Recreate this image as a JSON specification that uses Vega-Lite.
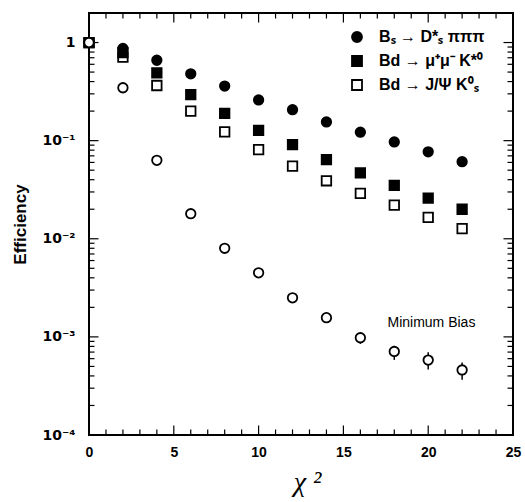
{
  "$schema": "https://vega.github.io/schema/vega-lite/v6.json",
  "width": 424,
  "height": 422,
  "autosize": "none",
  "padding": {"left": 89, "top": 13, "right": 12, "bottom": 67},
  "background": "white",
  "config": {
    "view": {"stroke": "black", "strokeWidth": 2},
    "font": "Liberation Sans",
    "axis": {"domain": false, "labelColor": "black", "titleColor": "black", "grid": false},
    "legend": {"orient": "none", "legendX": 260, "legendY": 16, "labelFontSize": 16, "labelFontWeight": "bold", "labelFont": "Liberation Sans", "labelColor": "black", "symbolSize": 100, "symbolStrokeWidth": 1.8, "rowPadding": 6, "labelOffset": 14, "symbolStrokeColor": "black"}
  },
  "datasets": {
    "b": [
      {"x": 0, "y": 1.0, "s": "Bd → J/Ψ K⁰ₛ"},
      {"x": 2, "y": 0.71, "s": "Bd → J/Ψ K⁰ₛ"},
      {"x": 4, "y": 0.365, "s": "Bd → J/Ψ K⁰ₛ"},
      {"x": 6, "y": 0.2, "s": "Bd → J/Ψ K⁰ₛ"},
      {"x": 8, "y": 0.123, "s": "Bd → J/Ψ K⁰ₛ"},
      {"x": 10, "y": 0.081, "s": "Bd → J/Ψ K⁰ₛ"},
      {"x": 12, "y": 0.055, "s": "Bd → J/Ψ K⁰ₛ"},
      {"x": 14, "y": 0.039, "s": "Bd → J/Ψ K⁰ₛ"},
      {"x": 16, "y": 0.029, "s": "Bd → J/Ψ K⁰ₛ"},
      {"x": 18, "y": 0.022, "s": "Bd → J/Ψ K⁰ₛ"},
      {"x": 20, "y": 0.0165, "s": "Bd → J/Ψ K⁰ₛ"},
      {"x": 22, "y": 0.0127, "s": "Bd → J/Ψ K⁰ₛ"},
      {"x": 0, "y": 1.0, "s": "Bₛ → D*ₛ πππ"},
      {"x": 2, "y": 0.87, "s": "Bₛ → D*ₛ πππ"},
      {"x": 4, "y": 0.66, "s": "Bₛ → D*ₛ πππ"},
      {"x": 6, "y": 0.48, "s": "Bₛ → D*ₛ πππ"},
      {"x": 8, "y": 0.36, "s": "Bₛ → D*ₛ πππ"},
      {"x": 10, "y": 0.26, "s": "Bₛ → D*ₛ πππ"},
      {"x": 12, "y": 0.207, "s": "Bₛ → D*ₛ πππ"},
      {"x": 14, "y": 0.155, "s": "Bₛ → D*ₛ πππ"},
      {"x": 16, "y": 0.122, "s": "Bₛ → D*ₛ πππ"},
      {"x": 18, "y": 0.097, "s": "Bₛ → D*ₛ πππ"},
      {"x": 20, "y": 0.077, "s": "Bₛ → D*ₛ πππ"},
      {"x": 22, "y": 0.061, "s": "Bₛ → D*ₛ πππ"},
      {"x": 0, "y": 1.0, "s": "Bd → μ⁺μ⁻ K*⁰"},
      {"x": 2, "y": 0.79, "s": "Bd → μ⁺μ⁻ K*⁰"},
      {"x": 4, "y": 0.49, "s": "Bd → μ⁺μ⁻ K*⁰"},
      {"x": 6, "y": 0.295, "s": "Bd → μ⁺μ⁻ K*⁰"},
      {"x": 8, "y": 0.19, "s": "Bd → μ⁺μ⁻ K*⁰"},
      {"x": 10, "y": 0.127, "s": "Bd → μ⁺μ⁻ K*⁰"},
      {"x": 12, "y": 0.091, "s": "Bd → μ⁺μ⁻ K*⁰"},
      {"x": 14, "y": 0.064, "s": "Bd → μ⁺μ⁻ K*⁰"},
      {"x": 16, "y": 0.047, "s": "Bd → μ⁺μ⁻ K*⁰"},
      {"x": 18, "y": 0.035, "s": "Bd → μ⁺μ⁻ K*⁰"},
      {"x": 20, "y": 0.026, "s": "Bd → μ⁺μ⁻ K*⁰"},
      {"x": 22, "y": 0.020, "s": "Bd → μ⁺μ⁻ K*⁰"}
    ],
    "mb": [
      {"x": 0, "y": 1.0, "lo": 1.0, "hi": 1.0},
      {"x": 2, "y": 0.346, "lo": 0.346, "hi": 0.346},
      {"x": 4, "y": 0.063, "lo": 0.063, "hi": 0.063},
      {"x": 6, "y": 0.018, "lo": 0.018, "hi": 0.018},
      {"x": 8, "y": 0.008, "lo": 0.008, "hi": 0.008},
      {"x": 10, "y": 0.0045, "lo": 0.0045, "hi": 0.0045},
      {"x": 12, "y": 0.0025, "lo": 0.0025, "hi": 0.0025},
      {"x": 14, "y": 0.00157, "lo": 0.00152, "hi": 0.00162},
      {"x": 16, "y": 0.00098, "lo": 0.00085, "hi": 0.00109},
      {"x": 18, "y": 0.00071, "lo": 0.000583, "hi": 0.00081},
      {"x": 20, "y": 0.00058, "lo": 0.000465, "hi": 0.000696},
      {"x": 22, "y": 0.00046, "lo": 0.000365, "hi": 0.000547}
    ],
    "lbl": [
      {"x": 17.6, "y": 0.0014, "t": "Minimum Bias"}
    ],
    "xt": [
      {"v": 0, "k": "major"}, {"v": 1, "k": "minor"}, {"v": 2, "k": "minor"}, {"v": 3, "k": "minor"}, {"v": 4, "k": "minor"},
      {"v": 5, "k": "major"}, {"v": 6, "k": "minor"}, {"v": 7, "k": "minor"}, {"v": 8, "k": "minor"}, {"v": 9, "k": "minor"},
      {"v": 10, "k": "major"}, {"v": 11, "k": "minor"}, {"v": 12, "k": "minor"}, {"v": 13, "k": "minor"}, {"v": 14, "k": "minor"},
      {"v": 15, "k": "major"}, {"v": 16, "k": "minor"}, {"v": 17, "k": "minor"}, {"v": 18, "k": "minor"}, {"v": 19, "k": "minor"},
      {"v": 20, "k": "major"}, {"v": 21, "k": "minor"}, {"v": 22, "k": "minor"}, {"v": 23, "k": "minor"}, {"v": 24, "k": "minor"}
    ],
    "yt": [
      {"v": 0.0002, "k": "minor"}, {"v": 0.0003, "k": "minor"}, {"v": 0.0004, "k": "minor"}, {"v": 0.0005, "k": "minor"}, {"v": 0.0006, "k": "minor"}, {"v": 0.0007, "k": "minor"}, {"v": 0.0008, "k": "minor"}, {"v": 0.0009, "k": "minor"},
      {"v": 0.001, "k": "major"},
      {"v": 0.002, "k": "minor"}, {"v": 0.003, "k": "minor"}, {"v": 0.004, "k": "minor"}, {"v": 0.005, "k": "minor"}, {"v": 0.006, "k": "minor"}, {"v": 0.007, "k": "minor"}, {"v": 0.008, "k": "minor"}, {"v": 0.009, "k": "minor"},
      {"v": 0.01, "k": "major"},
      {"v": 0.02, "k": "minor"}, {"v": 0.03, "k": "minor"}, {"v": 0.04, "k": "minor"}, {"v": 0.05, "k": "minor"}, {"v": 0.06, "k": "minor"}, {"v": 0.07, "k": "minor"}, {"v": 0.08, "k": "minor"}, {"v": 0.09, "k": "minor"},
      {"v": 0.1, "k": "major"},
      {"v": 0.2, "k": "minor"}, {"v": 0.3, "k": "minor"}, {"v": 0.4, "k": "minor"}, {"v": 0.5, "k": "minor"}, {"v": 0.6, "k": "minor"}, {"v": 0.7, "k": "minor"}, {"v": 0.8, "k": "minor"}, {"v": 0.9, "k": "minor"},
      {"v": 1, "k": "major"}
    ]
  },
  "layer": [
    {
      "data": {"name": "xt"},
      "mark": {"type": "tick", "orient": "vertical", "thickness": 1.2, "color": "black", "opacity": 1, "clip": true},
      "encoding": {
        "x": {"field": "v", "type": "quantitative", "scale": {"domain": [0, 25], "nice": false, "zero": false},
          "axis": {"orient": "bottom", "ticks": false, "values": [0, 5, 10, 15, 20, 25], "labelPadding": 10, "labelFontSize": 14, "labelFontWeight": "bold", "labelFont": "Liberation Sans", "labelFlush": false, "title": "χ ²", "titleFontSize": 28, "titleFontWeight": "normal", "titleFont": "Liberation Serif", "titleFontStyle": "italic", "titleX": 218, "titleY": 55, "titleBaseline": "alphabetic"}},
        "y": {"datum": 0.0001, "type": "quantitative", "scale": {"type": "log", "domain": [0.0001, 2], "nice": false},
          "axis": {"orient": "left", "ticks": false, "values": [0.0001, 0.001, 0.01, 0.1, 1], "labelExpr": "datum.value > 0.5 ? '1' : datum.value > 0.05 ? '10⁻¹' : datum.value > 0.005 ? '10⁻²' : datum.value > 0.0005 ? '10⁻³' : '10⁻⁴'", "labelPadding": 14, "labelFontSize": 14, "labelFontWeight": "bold", "labelFont": "DejaVu Sans", "labelFlush": false, "title": "Efficiency", "titleFontSize": 17, "titleFontWeight": "bold", "titleFont": "Liberation Sans", "titlePadding": 12}},
        "size": {"field": "k", "type": "ordinal", "scale": {"domain": ["major", "minor"], "range": [19, 11]}, "legend": null}
      }
    },
    {
      "data": {"name": "xt"},
      "mark": {"type": "tick", "orient": "vertical", "thickness": 1.2, "color": "black", "opacity": 1, "clip": true},
      "encoding": {
        "x": {"field": "v", "type": "quantitative",
          "axis": {"orient": "bottom", "ticks": false, "values": [0, 5, 10, 15, 20, 25], "labelPadding": 10, "labelFontSize": 14, "labelFontWeight": "bold", "labelFont": "Liberation Sans", "labelFlush": false, "title": "χ ²", "titleFontSize": 28, "titleFontWeight": "normal", "titleFont": "Liberation Serif", "titleFontStyle": "italic", "titleX": 218, "titleY": 55, "titleBaseline": "alphabetic"}},
        "y": {"datum": 2, "type": "quantitative",
          "axis": {"orient": "left", "ticks": false, "values": [0.0001, 0.001, 0.01, 0.1, 1], "labelExpr": "datum.value > 0.5 ? '1' : datum.value > 0.05 ? '10⁻¹' : datum.value > 0.005 ? '10⁻²' : datum.value > 0.0005 ? '10⁻³' : '10⁻⁴'", "labelPadding": 14, "labelFontSize": 14, "labelFontWeight": "bold", "labelFont": "DejaVu Sans", "labelFlush": false, "title": "Efficiency", "titleFontSize": 17, "titleFontWeight": "bold", "titleFont": "Liberation Sans", "titlePadding": 12}},
        "size": {"field": "k", "type": "ordinal", "legend": null}
      }
    },
    {
      "data": {"name": "yt"},
      "mark": {"type": "tick", "orient": "horizontal", "thickness": 1.2, "color": "black", "opacity": 1, "clip": true},
      "encoding": {
        "y": {"field": "v", "type": "quantitative",
          "axis": {"orient": "left", "ticks": false, "values": [0.0001, 0.001, 0.01, 0.1, 1], "labelExpr": "datum.value > 0.5 ? '1' : datum.value > 0.05 ? '10⁻¹' : datum.value > 0.005 ? '10⁻²' : datum.value > 0.0005 ? '10⁻³' : '10⁻⁴'", "labelPadding": 14, "labelFontSize": 14, "labelFontWeight": "bold", "labelFont": "DejaVu Sans", "labelFlush": false, "title": "Efficiency", "titleFontSize": 17, "titleFontWeight": "bold", "titleFont": "Liberation Sans", "titlePadding": 12}},
        "x": {"datum": 0, "type": "quantitative",
          "axis": {"orient": "bottom", "ticks": false, "values": [0, 5, 10, 15, 20, 25], "labelPadding": 10, "labelFontSize": 14, "labelFontWeight": "bold", "labelFont": "Liberation Sans", "labelFlush": false, "title": "χ ²", "titleFontSize": 28, "titleFontWeight": "normal", "titleFont": "Liberation Serif", "titleFontStyle": "italic", "titleX": 218, "titleY": 55, "titleBaseline": "alphabetic"}},
        "size": {"field": "k", "type": "ordinal", "legend": null}
      }
    },
    {
      "data": {"name": "yt"},
      "mark": {"type": "tick", "orient": "horizontal", "thickness": 1.2, "color": "black", "opacity": 1, "clip": true},
      "encoding": {
        "y": {"field": "v", "type": "quantitative",
          "axis": {"orient": "left", "ticks": false, "values": [0.0001, 0.001, 0.01, 0.1, 1], "labelExpr": "datum.value > 0.5 ? '1' : datum.value > 0.05 ? '10⁻¹' : datum.value > 0.005 ? '10⁻²' : datum.value > 0.0005 ? '10⁻³' : '10⁻⁴'", "labelPadding": 14, "labelFontSize": 14, "labelFontWeight": "bold", "labelFont": "DejaVu Sans", "labelFlush": false, "title": "Efficiency", "titleFontSize": 17, "titleFontWeight": "bold", "titleFont": "Liberation Sans", "titlePadding": 12}},
        "x": {"datum": 25, "type": "quantitative",
          "axis": {"orient": "bottom", "ticks": false, "values": [0, 5, 10, 15, 20, 25], "labelPadding": 10, "labelFontSize": 14, "labelFontWeight": "bold", "labelFont": "Liberation Sans", "labelFlush": false, "title": "χ ²", "titleFontSize": 28, "titleFontWeight": "normal", "titleFont": "Liberation Serif", "titleFontStyle": "italic", "titleX": 218, "titleY": 55, "titleBaseline": "alphabetic"}},
        "size": {"field": "k", "type": "ordinal", "legend": null}
      }
    },
    {
      "data": {"name": "b"},
      "mark": {"type": "point", "filled": true, "strokeWidth": 1.8, "opacity": 1, "size": 90},
      "encoding": {
        "x": {"field": "x", "type": "quantitative",
          "axis": {"orient": "bottom", "ticks": false, "values": [0, 5, 10, 15, 20, 25], "labelPadding": 10, "labelFontSize": 14, "labelFontWeight": "bold", "labelFont": "Liberation Sans", "labelFlush": false, "title": "χ ²", "titleFontSize": 28, "titleFontWeight": "normal", "titleFont": "Liberation Serif", "titleFontStyle": "italic", "titleX": 218, "titleY": 55, "titleBaseline": "alphabetic"}},
        "y": {"field": "y", "type": "quantitative",
          "axis": {"orient": "left", "ticks": false, "values": [0.0001, 0.001, 0.01, 0.1, 1], "labelExpr": "datum.value > 0.5 ? '1' : datum.value > 0.05 ? '10⁻¹' : datum.value > 0.005 ? '10⁻²' : datum.value > 0.0005 ? '10⁻³' : '10⁻⁴'", "labelPadding": 14, "labelFontSize": 14, "labelFontWeight": "bold", "labelFont": "DejaVu Sans", "labelFlush": false, "title": "Efficiency", "titleFontSize": 17, "titleFontWeight": "bold", "titleFont": "Liberation Sans", "titlePadding": 12}},
        "shape": {"field": "s", "type": "nominal", "title": null,
          "scale": {"domain": ["Bₛ → D*ₛ πππ", "Bd → μ⁺μ⁻ K*⁰", "Bd → J/Ψ K⁰ₛ"], "range": ["circle", "square", "square"]}},
        "fill": {"field": "s", "type": "nominal", "title": null,
          "scale": {"domain": ["Bₛ → D*ₛ πππ", "Bd → μ⁺μ⁻ K*⁰", "Bd → J/Ψ K⁰ₛ"], "range": ["black", "black", "white"]}},
        "stroke": {"field": "s", "type": "nominal", "title": null,
          "scale": {"domain": ["Bₛ → D*ₛ πππ", "Bd → μ⁺μ⁻ K*⁰", "Bd → J/Ψ K⁰ₛ"], "range": ["black", "black", "black"]}}
      }
    },
    {
      "data": {"name": "mb"},
      "mark": {"type": "rule", "stroke": "black", "strokeWidth": 1.5},
      "encoding": {
        "x": {"field": "x", "type": "quantitative",
          "axis": {"orient": "bottom", "ticks": false, "values": [0, 5, 10, 15, 20, 25], "labelPadding": 10, "labelFontSize": 14, "labelFontWeight": "bold", "labelFont": "Liberation Sans", "labelFlush": false, "title": "χ ²", "titleFontSize": 28, "titleFontWeight": "normal", "titleFont": "Liberation Serif", "titleFontStyle": "italic", "titleX": 218, "titleY": 55, "titleBaseline": "alphabetic"}},
        "y": {"field": "lo", "type": "quantitative",
          "axis": {"orient": "left", "ticks": false, "values": [0.0001, 0.001, 0.01, 0.1, 1], "labelExpr": "datum.value > 0.5 ? '1' : datum.value > 0.05 ? '10⁻¹' : datum.value > 0.005 ? '10⁻²' : datum.value > 0.0005 ? '10⁻³' : '10⁻⁴'", "labelPadding": 14, "labelFontSize": 14, "labelFontWeight": "bold", "labelFont": "DejaVu Sans", "labelFlush": false, "title": "Efficiency", "titleFontSize": 17, "titleFontWeight": "bold", "titleFont": "Liberation Sans", "titlePadding": 12}},
        "y2": {"field": "hi"}
      }
    },
    {
      "data": {"name": "mb"},
      "mark": {"type": "point", "filled": true, "fill": "white", "stroke": "black", "strokeWidth": 1.8, "shape": "circle", "size": 90, "opacity": 1},
      "encoding": {
        "x": {"field": "x", "type": "quantitative",
          "axis": {"orient": "bottom", "ticks": false, "values": [0, 5, 10, 15, 20, 25], "labelPadding": 10, "labelFontSize": 14, "labelFontWeight": "bold", "labelFont": "Liberation Sans", "labelFlush": false, "title": "χ ²", "titleFontSize": 28, "titleFontWeight": "normal", "titleFont": "Liberation Serif", "titleFontStyle": "italic", "titleX": 218, "titleY": 55, "titleBaseline": "alphabetic"}},
        "y": {"field": "y", "type": "quantitative",
          "axis": {"orient": "left", "ticks": false, "values": [0.0001, 0.001, 0.01, 0.1, 1], "labelExpr": "datum.value > 0.5 ? '1' : datum.value > 0.05 ? '10⁻¹' : datum.value > 0.005 ? '10⁻²' : datum.value > 0.0005 ? '10⁻³' : '10⁻⁴'", "labelPadding": 14, "labelFontSize": 14, "labelFontWeight": "bold", "labelFont": "DejaVu Sans", "labelFlush": false, "title": "Efficiency", "titleFontSize": 17, "titleFontWeight": "bold", "titleFont": "Liberation Sans", "titlePadding": 12}}
      }
    },
    {
      "data": {"name": "lbl"},
      "mark": {"type": "text", "align": "left", "baseline": "middle", "fontSize": 14, "font": "Liberation Sans", "color": "black"},
      "encoding": {
        "x": {"field": "x", "type": "quantitative",
          "axis": {"orient": "bottom", "ticks": false, "values": [0, 5, 10, 15, 20, 25], "labelPadding": 10, "labelFontSize": 14, "labelFontWeight": "bold", "labelFont": "Liberation Sans", "labelFlush": false, "title": "χ ²", "titleFontSize": 28, "titleFontWeight": "normal", "titleFont": "Liberation Serif", "titleFontStyle": "italic", "titleX": 218, "titleY": 55, "titleBaseline": "alphabetic"}},
        "y": {"field": "y", "type": "quantitative",
          "axis": {"orient": "left", "ticks": false, "values": [0.0001, 0.001, 0.01, 0.1, 1], "labelExpr": "datum.value > 0.5 ? '1' : datum.value > 0.05 ? '10⁻¹' : datum.value > 0.005 ? '10⁻²' : datum.value > 0.0005 ? '10⁻³' : '10⁻⁴'", "labelPadding": 14, "labelFontSize": 14, "labelFontWeight": "bold", "labelFont": "DejaVu Sans", "labelFlush": false, "title": "Efficiency", "titleFontSize": 17, "titleFontWeight": "bold", "titleFont": "Liberation Sans", "titlePadding": 12}},
        "text": {"field": "t"}
      }
    }
  ]
}
